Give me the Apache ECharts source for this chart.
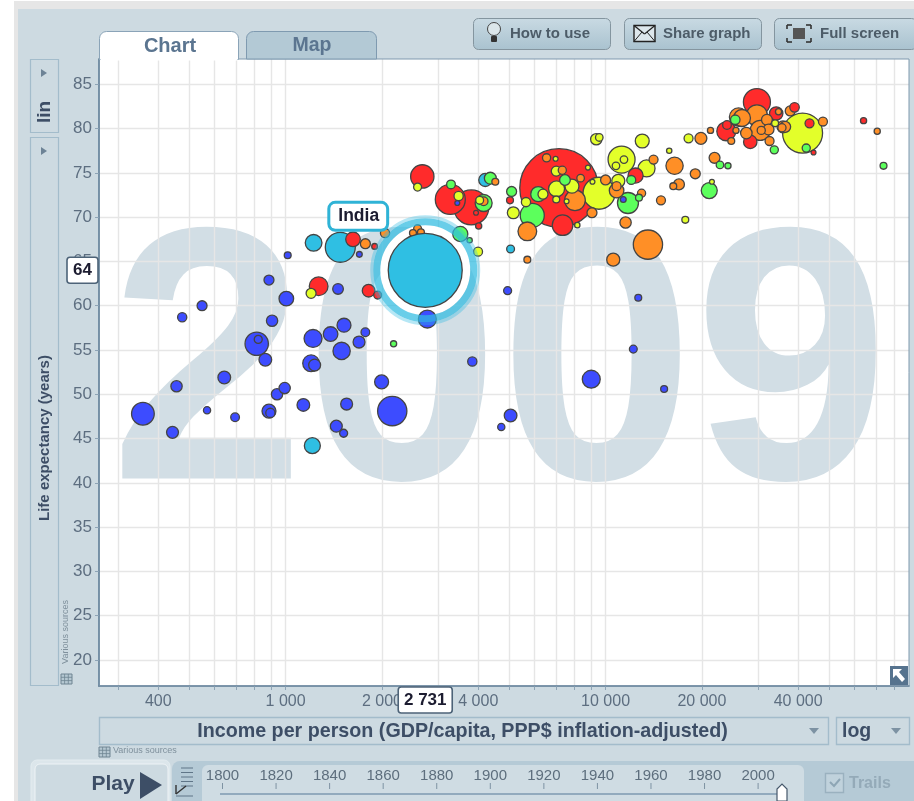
<!DOCTYPE html>
<html><head><meta charset="utf-8">
<style>html,body{margin:0;padding:0;background:#fff}#c{width:914px;height:801px}</style>
<script src="https://cdn.jsdelivr.net/npm/echarts@6/dist/echarts.min.js"></script>
</head><body><div id="c"></div>
<script>
// [income per person, life expectancy, population in millions]
const africa = [[358,47.8,109],[443,45.7,30],[456,50.9,27],[475,58.7,18],[548,60,21],[568,48.2,11],[643,51.9,34],[695,47.4,16],[812,55.7,115],[821,56.2,13.5],[887,62.9,21],[907,58.3,27],[1005,60.8,45],[864,53.9,34],[887,48.1,41],[896,47.9,18],[940,50,27],[993,50.7,27],[1136,48.8,34],[1201,53.5,59],[1232,53.3,30],[1218,56.3,68],[1382,56.8,45],[1522,57.8,41],[1496,54.9,63],[1696,55.9,30],[1775,57,16],[1458,61.9,24],[1440,46.4,30],[1518,45.6,13.5],[1551,48.9,30],[1995,51.4,41],[2154,48.1,181],[2773,58.5,68],[3832,53.7,18],[4941,61.7,13.5],[5048,47.6,34],[4721,46.3,11],[9021,51.7,68],[12653,60.9,10],[12210,55.1,13],[15240,50.6,10],[1015,65.7,10],[1700,65.8,7],[11360,72,7],[3440,71.6,5]];
const southAsia = [[1482,66.6,190],[1223,67.1,59],[1212,44.2,54],[4207,74.2,36],[5048,66.4,13]];
const eastAsia = [[1624,67.5,45],[1268,62.2,74],[1817,61.7,34],[1939,61.2,13],[1897,66.7,7],[2674,74.6,115],[3271,72,190],[3805,71.1,258],[4012,69,8],[3936,70.5,5],[7152,73.3,1300],[7338,69.1,90],[5027,71.9,10],[12410,74.7,48],[64030,80.9,8],[29720,83,154],[23840,79.7,76],[23960,80.4,16],[28330,78.5,38],[34140,81.7,38],[38960,82.4,19],[43400,80.6,17],[44670,77.3,5]];
const americas = [[1201,61.4,21],[2585,73.4,13.5],[3473,72.4,18],[4041,71.9,13],[3994,66.1,17],[9537,72.7,216],[7029,73.2,54],[7852,73.5,41],[6373,72.6,21],[7012,75.2,21],[6980,76.6,5],[8810,75.6,5],[7012,72,10],[7553,71.8,5],[8159,69.1,6],[5640,71.7,18],[5148,70.5,30],[10960,74.1,36],[9100,74,5],[11220,76.5,154],[11415,76.5,12],[10777,75.8,12],[13430,75.5,61],[13020,78.6,41],[9352,78.8,27],[9557,79,12],[18170,78.9,17],[15810,77.5,6],[21500,74,5],[17750,69.7,10],[41280,79.5,338],[33880,80.6,10]];
const europe = [[2585,68.7,13],[2500,68.2,10],[2648,68.3,10],[2045,68.2,18],[1775,67,21],[4158,71.8,16],[4522,74,10],[5695,68.4,74],[8024,71.9,90],[7323,75.3,14],[6540,76.7,14],[8355,74.4,12],[9068,70.5,21],[11550,69.4,27],[13566,66.9,181],[10568,65.2,36],[5695,65.2,10],[12957,72.7,14],[10825,73,45],[10825,73.5,17],[10000,74.2,21],[14125,76.5,17],[19860,78.9,30],[21280,79.8,8],[16430,75.8,63],[21910,76.7,25],[19070,74.9,21],[16960,73.7,25],[16280,73.5,10],[14900,71.9,17],[70650,79.7,8],[26040,81.3,71],[26690,81.2,61],[29720,81.5,93],[25560,79.8,8],[24710,78.6,10],[27540,79.5,28],[31940,81,25],[34720,81.9,8],[30430,79.8,84],[32310,79.9,25],[30660,79.8,14],[32550,78.6,17],[35850,80.2,30],[36430,80.2,25],[35590,80.1,14],[37770,82,21],[47800,80.8,17]];
const middleEast = [[3515,68.1,48],[3287,73.7,16],[4158,71.6,61],[4363,74.4,30],[3758,67.4,6],[5900,70.2,122],[7465,74.2,24],[6160,72.6,48],[5085,72.9,21],[11749,71.6,93],[12717,72.2,10],[12030,74.2,17],[22780,75.9,12],[24130,75.8,8],[21090,73,54],[73920,75.8,10],[25430,81,19],[42390,77.8,14],[33680,77.6,14],[2175,55.7,8]];
const selected = [2731, 64, 1156];
const selectedName = 'India';
const xTicks = [300,400,500,600,700,800,900,1000,2000,3000,4000,5000,6000,7000,8000,9000,10000,20000,30000,40000,50000,60000,70000,80000];
const xLabels = [400,1000,2000,4000,10000,20000,40000];
const yTicks = [20,25,30,35,40,45,50,55,60,65,70,75,80,85];
const years = [1800,1820,1840,1860,1880,1900,1920,1940,1960,1980,2000];
const yearShown = '2009';

const COL = {africa:'#3d4cff',southAsia:'#2fbfe3',eastAsia:'#ff2b2b',americas:'#e3ff2a',europe:'#ff8f26',middleEast:'#5cff5c'};
const FONT = '"Liberation Sans", Arial, sans-serif';
const size = p => 2.176*Math.sqrt(p);
const fmt = v => String(v).replace(/\B(?=(\d{3})+$)/g,' ');
const bubbles = [];
[[africa,COL.africa],[southAsia,COL.southAsia],[eastAsia,COL.eastAsia],[americas,COL.americas],[europe,COL.europe],[middleEast,COL.middleEast]]
 .forEach(([arr,c])=>arr.forEach(d=>bubbles.push({value:d,itemStyle:{color:c}})));
bubbles.sort((a,b)=>b.value[2]-a.value[2]);

const g = [];
const INK='#3d4e66', SOFT='#5b7590', PANEL='#cddae1', EDGE='#a3bccb';
function rect(x,y,w,h,fill,stroke,r,z,lw){g.push({type:'rect',z:z===undefined?-10:z,silent:true,shape:{x,y,width:w,height:h,r:r||0},style:{fill:fill||'none',stroke:stroke||'none',lineWidth:lw||1}});}
function text(t,x,y,font,fill,align,z,rot){g.push({type:'text',z:z===undefined?5:z,silent:true,x,y,rotation:rot||0,style:{text:t,x:0,y:0,font:font+' '+FONT,fill,align:align||'center',verticalAlign:'middle'}});}
function tri(pts,fill,z){g.push({type:'polygon',z:z===undefined?5:z,silent:true,shape:{points:pts},style:{fill}});}
function line(x1,y1,x2,y2,c,w,z){g.push({type:'line',z:z===undefined?5:z,silent:true,shape:{x1,y1,x2,y2},style:{stroke:c,lineWidth:w||1}});}
// frame
rect(14,1,900,800,'#e6e6e6',null,0,-30);
rect(18,9,896,792,PANEL,null,0,-29);
// plot
rect(99,59,810,627,'#fff',null,0,-20);
g.push({type:'text',z:-15,silent:true,x:499.5,y:379,scaleY:1.03,style:{text:yearShown,x:0,y:0,font:'bold 350px '+FONT,fill:'#d2dee5',align:'center',verticalAlign:'middle'}});
rect(99,59,810,627,null,'#7f99ae',0,1,1);
// tabs
rect(99.5,31.5,139,28,'#fff','#8ba4b8',[7,7,0,0],2);
rect(100.5,50,137,10.5,'#fff',null,0,2);
text('Chart',170,46,'bold 20px',SOFT);
rect(246.5,31.5,130,27.5,'#b3c9d5','#7f9ab0',[7,7,0,0],2);
text('Map',312,46,'bold 19.5px',SOFT);
// buttons
const btnFill={type:'linear',x:0,y:0,x2:0,y2:1,colorStops:[{offset:0,color:'#c9dae3'},{offset:1,color:'#a9c2cf'}]};
[[473,137,'How to use',510],[624,137,'Share graph',663],[774,142,'Full screen',820]].forEach(b=>{
  rect(b[0]+.5,18.5,b[1],31,btnFill,'#84959f',5,2);
  text(b[2],b[3],33.5,'bold 15px','#4d5c68','left');
});
// bulb
g.push({type:'circle',z:5,silent:true,shape:{cx:494,cy:29,r:6.5},style:{fill:'#dbe6ea',stroke:'#444',lineWidth:1}});
rect(491,36,6,6,'#333',null,1,5);
// envelope
rect(634,25.5,21,16,'#dde7ec','#222',0,5,1.4);
line(634,25.5,644.5,34,'#222',1.2);line(655,25.5,644.5,34,'#222',1.2);
line(634,41.5,642,32,'#222',1);line(655,41.5,647,32,'#222',1);
// full screen
rect(793,28,12,11,'#555',null,0,5);
[[787,25,1,1],[811,25,-1,1],[787,42,1,-1],[811,42,-1,-1]].forEach(c=>{line(c[0],c[1],c[0]+5*c[2],c[1],'#333',1.6);line(c[0],c[1],c[0],c[1]+4*c[3],'#333',1.6);});
// left selectors
rect(30.5,59.5,28,73,null,EDGE,0,2,1.2);
tri([[41,69],[41,77],[47,73]],'#6d8396');
text('lin',44.5,112,'bold 19px',INK,'center',5,Math.PI/2);
rect(30.5,137.5,28,548,null,EDGE,0,2,1.2);
tri([[41,147],[41,155],[47,151]],'#6d8396');
text('Life expectancy (years)',44.5,438,'bold 15px',INK,'center',5,Math.PI/2);
text('Various sources',65.5,632,'9px','#7f909c','center',5,Math.PI/2);
function tableIcon(x,y){rect(x,y,11,10,'#b6c8d2','#6f8492',0,5);line(x+3.6,y,x+3.6,y+10,'#6f8492',.8);line(x+7.3,y,x+7.3,y+10,'#6f8492',.8);line(x,y+3.3,x+11,y+3.3,'#6f8492',.8);line(x,y+6.6,x+11,y+6.6,'#6f8492',.8);}
tableIcon(61,674);
// x selector
rect(99.5,717.5,729,27,null,EDGE,0,2,1.4);
text('Income per person (GDP/capita, PPP$ inflation-adjusted)',462.5,731.5,'bold 19.7px',INK);
tri([[809,728],[819,728],[814,734]],'#7d92a3');
rect(836.5,717.5,73,27,null,EDGE,0,2,1.4);
text('log',842,731.5,'bold 19.5px',INK,'left');
tri([[891,728],[901,728],[896,734]],'#7d92a3');
tableIcon(99,747);
text('Various sources',113,751,'9px','#7f909c','left');
// arrow button
rect(890,666,18,19,'#56738e',null,0,6);
tri([[893,669],[902,669],[899,672],[905,679],[902,682],[896,675],[893,678]],'#fff',7);
// bottom controls
rect(31,760,139,50,'#dce6eb','#e3ecf0',6,-5);
rect(35,764,133,50,PANEL,'#eef3f6',5,-4);
text('Play',113,784,'bold 21px',INK);
tri([[140,772],[140,799],[162,785]],INK);
rect(172,761,750,50,'#b5cad6',null,8,-5);
rect(202,765,602,50,'#cfdce3',null,6,-4);
[0,1,2,3,4].forEach(i=>line(181,768+i*4.5,193,768+i*4.5,'#5f7587',1));
line(176,796,193,796,'#5f7587',1);
line(176,794,186,786,'#333',1.4);line(176,794,176,785,'#333',1.4);
years.forEach(y=>{const x=222.5+(y-1800)*2.678;text(String(y),x,776,'15px','#5d6e7d');line(x,783,x,789,'#7e93a3',1);});
line(220,794,778,794,'#7e9ab0',1.5);
g.push({type:'polygon',z:6,silent:true,shape:{points:[[777,801],[777,789],[782,784],[787,789],[787,801]]},style:{fill:'#fff',stroke:'#46586b',lineWidth:1.2}});
rect(825.5,773.5,18,19,'#c0d2dc','#9ab1bf',0,5,1.4);
g.push({type:'polyline',z:6,silent:true,shape:{points:[[830,782],[834,786],[840,779]]},style:{stroke:'#8ea6b5',lineWidth:2,fill:'none'}});
text('Trails',849,784,'bold 16px','#94aab8','left');

const chart = echarts.init(document.getElementById('c'),null,{renderer:'canvas'});
const option = {
  animation:false,
  backgroundColor:'#fff',
  graphic:{elements:g},
  grid:{left:99,top:59,width:810,height:627,containLabel:false},
  xAxis:{type:'log',logBase:10,min:261,max:88800,
    axisLine:{onZero:false,lineStyle:{color:'#56728c',width:1.6}},
    axisTick:{length:4,inside:false,customValues:xTicks,lineStyle:{color:'#8ea4b6'}},
    axisLabel:{customValues:xLabels,formatter:v=>fmt(Math.round(v)),color:'#5d6e80',fontSize:16,fontFamily:FONT,margin:8},
    splitLine:{show:true,lineStyle:{color:'#e6e6e6',width:1.4}},minorTick:{show:false},minorSplitLine:{show:false}},
  yAxis:{type:'value',min:17.06,max:87.86,
    axisLine:{show:true,onZero:false,lineStyle:{color:'#56728c',width:1.6}},
    axisTick:{show:true,length:4,customValues:yTicks,lineStyle:{color:'#8ea4b6'}},
    axisLabel:{customValues:yTicks,color:'#5d6e80',fontSize:17,fontFamily:FONT,margin:7},
    splitLine:{show:true,lineStyle:{color:'#e6e6e6',width:1.4}}},
  series:[
    {type:'scatter',z:1,silent:true,data:[selected],symbolSize:90,itemStyle:{color:'#fff',opacity:1}},
    {type:'scatter',z:2,silent:true,data:bubbles,symbolSize:d=>size(d[2]),itemStyle:{borderColor:'#444',borderWidth:1.3,opacity:1}},
    {type:'scatter',z:3,silent:true,data:[selected],symbolSize:97,itemStyle:{color:'none',borderColor:'rgba(47,187,225,0.72)',borderWidth:7,opacity:1}},
    {type:'scatter',z:3,silent:true,data:[selected],symbolSize:107,itemStyle:{color:'none',borderColor:'rgba(47,187,225,0.35)',borderWidth:3,opacity:1}},
    {type:'scatter',z:4,silent:true,data:[selected],symbolSize:d=>size(d[2]),
      itemStyle:{color:COL.southAsia,borderColor:'#444',borderWidth:1.3,opacity:1},
      label:{show:true,position:'inside',offset:[-67,-54],formatter:selectedName,backgroundColor:'#fff',borderColor:'#2fb3d6',borderWidth:3,borderRadius:5,padding:[4,7,3,8],color:'#1c1c30',fontWeight:'bold',fontSize:17.5,fontFamily:FONT}}
  ]
};
chart.setOption(option);
const p = chart.convertToPixel({gridIndex:0},[selected[0],selected[1]]);
const extra=[];
function callout(t,cx,cy,w,h){
  extra.push({type:'rect',z:20,silent:true,shape:{x:cx-w/2,y:cy-h/2,width:w,height:h,r:3},style:{fill:'#fff',stroke:'#4d6378',lineWidth:1.6}});
  extra.push({type:'text',z:21,silent:true,style:{text:t,x:cx,y:cy,font:'bold 17px '+FONT,fill:'#1c1c30',align:'center',verticalAlign:'middle'}});
}
callout(String(selected[1]),82.5,p[1],31,26);
callout(fmt(selected[0]),p[0],700,54,26);
chart.setOption({graphic:{elements:g.concat(extra)}});
</script></body></html>
